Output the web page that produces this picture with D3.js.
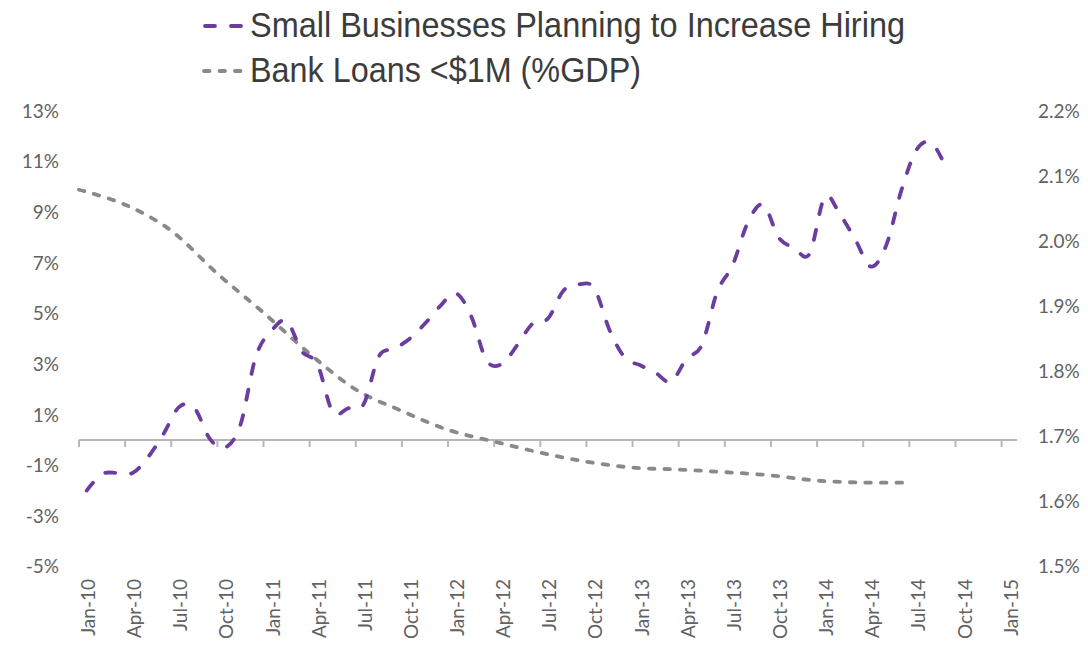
<!DOCTYPE html>
<html>
<head>
<meta charset="utf-8">
<script src="https://cdn.jsdelivr.net/npm/d3@7"></script>
<style>
body { margin: 0; background: #fff; }
.tickLabel { font: 19px Lato, sans-serif; fill: #626262; }
.legendText { font: 35px "Liberation Sans", Arial, sans-serif; fill: #3c3c3c; }
.hiring { fill: none; stroke: #6a3d9e; stroke-width: 3.8px; stroke-dasharray: 10 16; stroke-linecap: round; }
.loans { fill: none; stroke: #898989; stroke-width: 3.8px; stroke-dasharray: 5.5 10; stroke-linecap: round; }
.zeroLine { stroke: #b8b8b8; stroke-width: 2px; }
</style>
</head>
<body>
<div id="chart"></div>
<script>

// % of small businesses planning to increase hiring, monthly from Jan-10
const hiringPlans = [-2.0, -1.35, -1.3, -1.3, -0.67, 0.24, 1.3, 1.27, 0.05, -0.3, 0.6, 3.3,
    4.3, 4.7, 3.5, 3.0, 1.1, 1.25, 1.4, 3.3, 3.6, 4.0, 4.6, 5.3,
    5.8, 4.9, 3.15, 3.0, 3.75, 4.6, 4.8, 5.9, 6.15, 6.0, 4.35, 3.25,
    2.95, 2.65, 2.3, 3.2, 3.75, 5.85, 6.9, 8.6, 9.3, 8.0, 7.6, 7.35,
    9.6, 8.9, 7.9, 6.85, 7.7, 9.9, 11.5, 11.7, 10.6];

// bank loans < $1M as % of GDP, quarter ends Q4-09 .. Q2-14
const bankLoans = [2.079, 2.056, 2.016, 1.950, 1.890, 1.827, 1.772, 1.739, 1.710, 1.692,
    1.675, 1.661, 1.652, 1.649, 1.645, 1.640, 1.632, 1.629, 1.629];

const xLabels = ["Jan-10", "Apr-10", "Jul-10", "Oct-10", "Jan-11", "Apr-11", "Jul-11", "Oct-11",
    "Jan-12", "Apr-12", "Jul-12", "Oct-12", "Jan-13", "Apr-13", "Jul-13", "Oct-13",
    "Jan-14", "Apr-14", "Jul-14", "Oct-14", "Jan-15"];
const leftTicks = [13, 11, 9, 7, 5, 3, 1, -1, -3, -5];
const rightTicks = [2.2, 2.1, 2.0, 1.9, 1.8, 1.7, 1.6, 1.5];
const legendNames = ["Small Businesses Planning to Increase Hiring", "Bank Loans <$1M (%GDP)"];

const W = 1088, H = 656;
const svg = d3.select("#chart").append("svg")
    .attr("width", W)
    .attr("height", H);

// x in months since Jan-10 (61 month slots on the axis)
const x = d3.scaleLinear().domain([0, 61]).range([79, 1017]);
const yL = d3.scaleLinear().domain([-5, 13]).range([566.5, 111]);
const yR = d3.scaleLinear().domain([1.5, 2.2]).range([566.5, 111]);

// left axis labels
svg.append("g").selectAll("text")
    .data(leftTicks)
    .enter().append("text")
    .attr("class", "tickLabel")
    .attr("x", 59)
    .attr("y", d => yL(d))
    .attr("dy", "0.36em")
    .attr("text-anchor", "end")
    .text(d => d + "%");

// right axis labels
svg.append("g").selectAll("text")
    .data(rightTicks)
    .enter().append("text")
    .attr("class", "tickLabel")
    .attr("x", 1038)
    .attr("y", d => yR(d))
    .attr("dy", "0.36em")
    .text(d => d3.format(".1f")(d) + "%");

// zero line with quarterly ticks
const axisG = svg.append("g");
axisG.append("line")
    .attr("class", "zeroLine")
    .attr("x1", x(0)).attr("x2", x(61))
    .attr("y1", yL(0)).attr("y2", yL(0));
axisG.selectAll(".tk")
    .data(d3.range(0, 61, 3))
    .enter().append("line")
    .attr("class", "zeroLine tk")
    .attr("x1", d => x(d)).attr("x2", d => x(d))
    .attr("y1", yL(0)).attr("y2", yL(0) + 7);

// x labels, rotated
svg.append("g").selectAll("text")
    .data(xLabels)
    .enter().append("text")
    .attr("class", "tickLabel")
    .attr("text-anchor", "end")
    .attr("dy", "0.36em")
    .attr("transform", (d, i) => `translate(${x(i * 3 + 0.5) + 1.5}, 579) rotate(-90)`)
    .text(d => d);

// series
const loansLine = d3.line()
    .x((d, i) => x(i * 3))
    .y(d => yR(d))
    .curve(d3.curveCardinal.tension(0));
svg.append("path")
    .datum(bankLoans)
    .attr("class", "loans")
    .attr("d", loansLine);

const hiringLine = d3.line()
    .x((d, i) => x(i + 0.5))
    .y(d => yL(d))
    .curve(d3.curveCardinal.tension(0));
svg.append("path")
    .datum(hiringPlans)
    .attr("class", "hiring")
    .attr("d", hiringLine);

// legend
const legend = svg.append("g");
legend.append("line")
    .attr("class", "hiring")
    .attr("x1", 205).attr("x2", 242)
    .attr("y1", 26).attr("y2", 26);
legend.append("line")
    .attr("class", "loans")
    .attr("x1", 204).attr("x2", 243)
    .attr("y1", 71).attr("y2", 71);
legend.selectAll("text")
    .data(legendNames)
    .enter().append("text")
    .attr("class", "legendText")
    .attr("x", 250)
    .attr("y", (d, i) => 37 + i * 45)
    .attr("textLength", (d, i) => i == 0 ? 655 : 391)
    .attr("lengthAdjust", "spacingAndGlyphs")
    .text(d => d);

</script>
</body>
</html>
